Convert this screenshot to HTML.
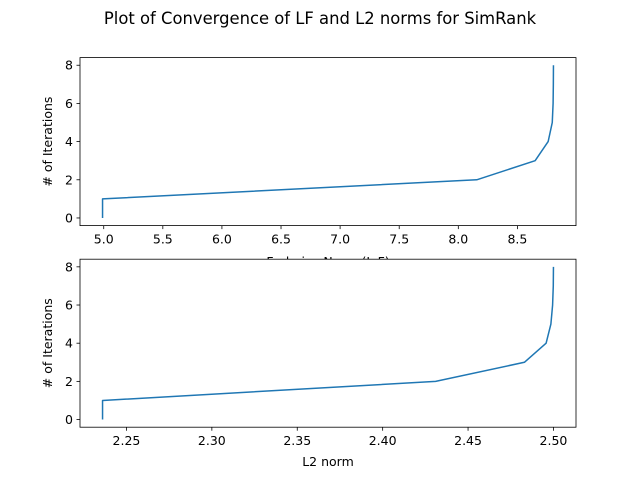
<!DOCTYPE html>
<html><head><meta charset="utf-8"><style>
body{margin:0;background:#fff}
svg text{font-family:"DejaVu Sans","Liberation Sans",sans-serif;fill:#000}
</style></head><body>
<svg id="fig" width="640" height="480" viewBox="0 0 640 480" xmlns="http://www.w3.org/2000/svg">
<rect width="640" height="480" fill="#fff"/>
<text x="320" y="24" font-size="16.4" text-anchor="middle">Plot of Convergence of LF and L2 norms for SimRank</text>
</svg>
<script>
const iterations=[0,1,2,3,4,5,6,7,8];
const lfNorm=[4.99,4.99,8.156,8.65,8.76,8.795,8.802,8.804,8.805];
const l2Norm=[2.236,2.236,2.431,2.483,2.4957,2.4985,2.4995,2.4999,2.5];
const lfTicks=[5.0,5.5,6.0,6.5,7.0,7.5,8.0,8.5];
const l2Ticks=[2.25,2.30,2.35,2.40,2.45,2.50];
const yTicks=[0,2,4,6,8];
const NS="http://www.w3.org/2000/svg";
const svg=document.getElementById('fig');
function mk(t,a,p){const e=document.createElementNS(NS,t);for(const k in a)e.setAttribute(k,a[k]);(p||svg).appendChild(e);return e;}
function panel(name,top,xs,ticks,dec){
  const L=80,R=576,T=top,B=top+168;
  const g=mk('g',{});
  
  
  const xmin=Math.min(...xs),xmax=Math.max(...xs),xr=xmax-xmin;
  const x0=xmin-0.05*xr,x1=xmax+0.05*xr;
  const ymin=Math.min(...iterations),ymax=Math.max(...iterations),yr=ymax-ymin;
  const y0=ymin-0.05*yr,y1=ymax+0.05*yr;
  const X=v=>L+(v-x0)/(x1-x0)*(R-L);
  const Y=v=>B-(v-y0)/(y1-y0)*(B-T);
  const bg=mk('rect',{x:L,y:T,width:R-L,height:B-T,fill:'#fff'},g);
  
  
  const pts=xs.map((v,i)=>X(v).toFixed(2)+','+Y(iterations[i]).toFixed(2)).join(' ');
  const ln=mk('polyline',{points:pts,fill:'none',stroke:'#1f77b4','stroke-width':1.5,'stroke-linejoin':'round'},g);
  
  
  const fr=mk('rect',{x:L,y:T,width:R-L,height:B-T,fill:'none',stroke:'#000','stroke-width':0.8},g);
  
  
  ticks.forEach(t=>{
    const x=X(t);
    mk('line',{x1:x,x2:x,y1:B,y2:B+3.5,stroke:'#000','stroke-width':0.8},g);
    const tx=mk('text',{x:x,y:B+18,'font-size':12.5,'text-anchor':'middle'},g);
    
    
    tx.textContent=t.toFixed(dec);
  });
  yTicks.forEach(t=>{
    const y=Y(t);
    mk('line',{x1:L,x2:L-3.5,y1:y,y2:y,stroke:'#000','stroke-width':0.8},g);
    const tx=mk('text',{x:L-7,y:y+4.5,'font-size':12.5,'text-anchor':'end'},g);
    
    
    tx.textContent=t;
  });
  const yl=mk('text',{x:0,y:0,'font-size':12.5,'text-anchor':'middle',transform:`translate(52,${(T+B)/2}) rotate(-90)`},g);
  
  
  yl.textContent='# of Iterations';
  return {g,B};
}
const p1=panel('lf-norm-panel',57.6,lfNorm,lfTicks,1);
const xl1=mk('text',{x:328,y:266,'font-size':12.5,'text-anchor':'middle'},p1.g);


xl1.textContent='Forbeius Norm (L-F)';
svg.appendChild(p1.g);
const p2=panel('l2-norm-panel',259.2,l2Norm,l2Ticks,2);
const xl2=mk('text',{x:328,y:466,'font-size':12.5,'text-anchor':'middle'},p2.g);


xl2.textContent='L2 norm';
</script>
</body></html>
